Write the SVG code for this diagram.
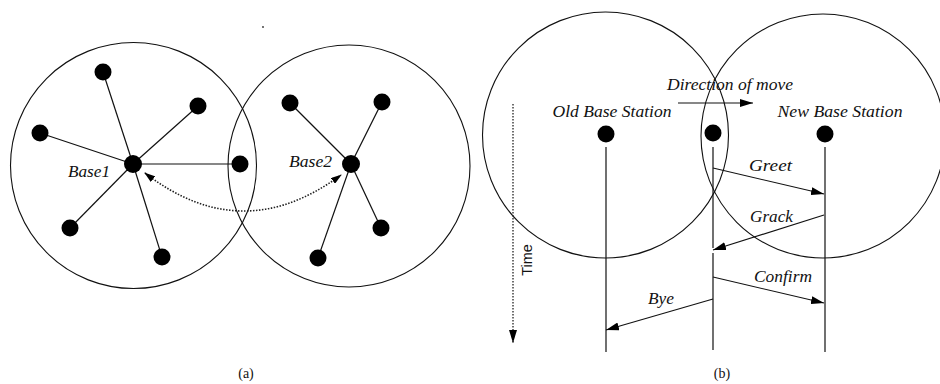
<svg xmlns="http://www.w3.org/2000/svg" width="940" height="384" viewBox="0 0 940 384">
<style>
.ring{fill:none;stroke:#111;stroke-width:1.1}
.dot{fill:#000}
.ln{stroke:#111;stroke-width:1.2;fill:none}
.msg{stroke:#111;stroke-width:1.1;fill:none;marker-end:url(#arr)}
.lbl{font-family:"Liberation Serif",serif;font-style:italic;font-size:16.5px;fill:#111}
.cap{font-family:"Liberation Serif",serif;font-size:14px;fill:#111}
.sans{font-family:"Liberation Sans",sans-serif;font-size:14.5px;fill:#111}
</style>
<defs>
<marker id="arr" markerUnits="userSpaceOnUse" markerWidth="13" markerHeight="8" refX="13" refY="4" orient="auto"><path d="M0,0 L13,4 L0,8 z" fill="#000"/></marker>
<marker id="arrS" markerUnits="userSpaceOnUse" markerWidth="11" markerHeight="7" refX="10" refY="3.5" orient="auto-start-reverse"><path d="M0,0 L11,3.5 L0,7 z" fill="#000"/></marker>
</defs>
<rect width="940" height="384" fill="#fff"/>

<!-- Panel (a) -->
<g id="cell-a1"><circle class="ring" cx="133.5" cy="165.5" r="123"/></g>
<g id="cell-a2"><circle class="ring" cx="349" cy="166" r="121"/></g>
<g id="connectors-a">
<line class="ln" x1="133" y1="164" x2="103" y2="72"/>
<line class="ln" x1="133" y1="164" x2="198" y2="106"/>
<line class="ln" x1="133" y1="164" x2="40" y2="133"/>
<line class="ln" x1="133" y1="164" x2="240" y2="164" stroke-width="1.8"/>
<line class="ln" x1="133" y1="164" x2="70" y2="228"/>
<line class="ln" x1="133" y1="164" x2="162" y2="257"/>
<line class="ln" x1="351" y1="164" x2="290" y2="103"/>
<line class="ln" x1="351" y1="164" x2="382" y2="102"/>
<line class="ln" x1="351" y1="164" x2="381" y2="228"/>
<line class="ln" x1="351" y1="164" x2="318" y2="258"/>
<path d="M145,173 Q242,248 341,175" fill="none" stroke="#222" stroke-width="1.6" stroke-dasharray="1.5 1.5" marker-start="url(#arrS)" marker-end="url(#arrS)"/>
</g>
<g id="base1"><circle class="dot" cx="133" cy="164" r="9"/><text class="lbl" x="68" y="177" textLength="42" lengthAdjust="spacingAndGlyphs">Base1</text></g>
<g id="base2"><circle class="dot" cx="351" cy="164" r="9"/><text class="lbl" x="289" y="167" textLength="43" lengthAdjust="spacingAndGlyphs">Base2</text></g>
<g id="nodes-a">
<circle class="dot" cx="103" cy="72" r="8.5"/>
<circle class="dot" cx="198" cy="106" r="8.5"/>
<circle class="dot" cx="40" cy="133" r="8.5"/>
<circle class="dot" cx="240" cy="164" r="8.5"/>
<circle class="dot" cx="70" cy="228" r="8.5"/>
<circle class="dot" cx="162" cy="257" r="8.5"/>
<circle class="dot" cx="290" cy="103" r="8.5"/>
<circle class="dot" cx="382" cy="102" r="8.5"/>
<circle class="dot" cx="381" cy="228" r="8.5"/>
<circle class="dot" cx="318" cy="258" r="8.5"/>
</g>
<circle cx="263" cy="27" r="0.9" fill="#333"/>
<text class="cap" x="246" y="378" text-anchor="middle">(a)</text>

<!-- Panel (b) -->
<g id="cell-old"><circle class="ring" cx="605.5" cy="135" r="123"/></g>
<g id="cell-new"><circle class="ring" cx="823" cy="136" r="122"/></g>
<g id="old-station"><circle class="dot" cx="606" cy="134" r="8.5"/><text class="lbl" x="612" y="117" text-anchor="middle" textLength="119" lengthAdjust="spacingAndGlyphs">Old Base Station</text></g>
<g id="mobile"><circle class="dot" cx="713" cy="133" r="8.5"/></g>
<g id="new-station"><circle class="dot" cx="825" cy="134" r="8.5"/><text class="lbl" x="840" y="117" text-anchor="middle" textLength="125" lengthAdjust="spacingAndGlyphs">New Base Station</text></g>
<g id="time-axis">
<line x1="513" y1="104" x2="513" y2="343" stroke="#222" stroke-width="1.3" stroke-dasharray="1.5 1.5" marker-end="url(#arr)"/>
<text class="sans" transform="translate(532,260) rotate(-90)" text-anchor="middle">Time</text>
</g>
<g id="connectors-b">
<line class="ln" x1="606" y1="147" x2="606" y2="352"/>
<line class="ln" x1="713" y1="147" x2="713" y2="248"/>
<line class="ln" x1="713" y1="253" x2="713" y2="350"/>
<line class="ln" x1="825" y1="147" x2="825" y2="352"/>
<line class="msg" x1="678" y1="103" x2="753" y2="103"/>
<line class="msg" x1="713" y1="168" x2="824" y2="194"/>
<line class="msg" x1="824" y1="215" x2="713" y2="250"/>
<line class="msg" x1="713" y1="277" x2="824" y2="303"/>
<line class="msg" x1="713" y1="299" x2="606" y2="330"/>
</g>
<g id="labels-b">
<text class="lbl" x="667" y="90" textLength="126" lengthAdjust="spacingAndGlyphs">Direction of move</text>
<text class="lbl" x="749" y="171" textLength="43" lengthAdjust="spacingAndGlyphs">Greet</text>
<text class="lbl" x="750" y="222" textLength="43" lengthAdjust="spacingAndGlyphs">Grack</text>
<text class="lbl" x="754" y="282" textLength="58" lengthAdjust="spacingAndGlyphs">Confirm</text>
<text class="lbl" x="648" y="304" textLength="26" lengthAdjust="spacingAndGlyphs">Bye</text>
</g>
<text class="cap" x="722" y="378" text-anchor="middle">(b)</text>
</svg>
